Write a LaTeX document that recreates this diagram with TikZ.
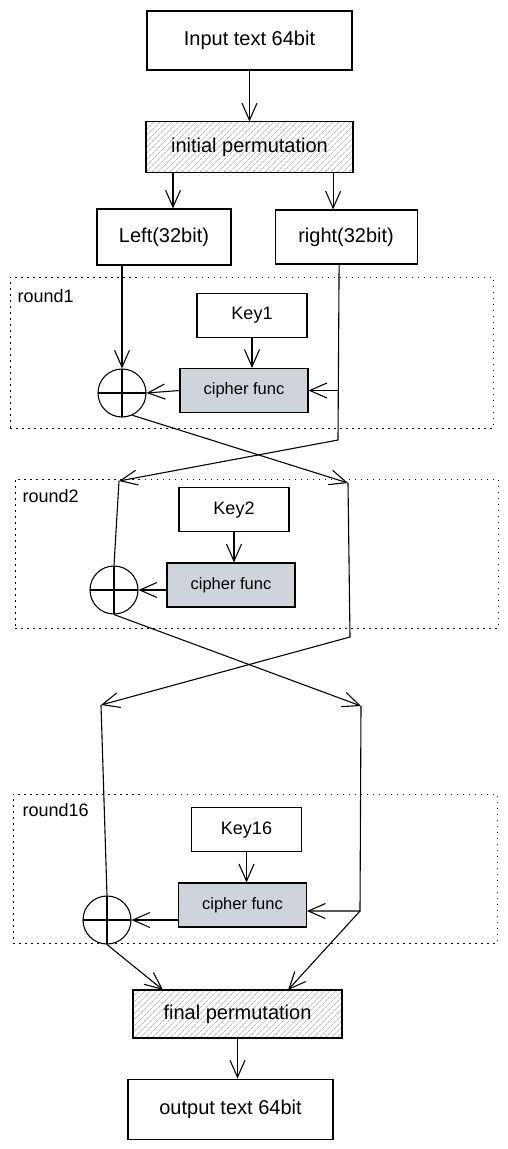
\documentclass[tikz,border=0pt]{standalone}
\usepackage{fontspec}
\setmainfont{Liberation Sans}
\usepackage{tikz}
\usetikzlibrary{arrows.meta}
\usetikzlibrary{positioning}
\usetikzlibrary{calc}
\usetikzlibrary{patterns.meta}
\definecolor{funcGray}{HTML}{CED4DA}
\tikzset{
    box/.style={draw, line width=1.1pt, inner sep=0pt, font=\fontsize{20}{22}\selectfont},
    permBox/.style={box, pattern={Lines[angle=45,distance=4pt,line width=0.6pt]}, pattern color=black!40},
    funcBox/.style={box, fill=funcGray, minimum width=128pt, minimum height=44pt, font=\fontsize{16.5}{18}\selectfont},
    keyBox/.style={box, minimum width=110pt, minimum height=44pt, font=\fontsize{18}{20}\selectfont},
    xorNode/.style={circle, draw, line width=1.1pt, minimum size=48pt, inner sep=0pt,
      path picture={
        \draw[line width=1.1pt] (path picture bounding box.north) -- (path picture bounding box.south);
        \draw[line width=1.1pt] (path picture bounding box.west) -- (path picture bounding box.east);}},
    roundBox/.style={draw, line width=1pt, dash pattern=on 1.5pt off 4.5pt, inner sep=0pt},
    roundLabel/.style={anchor=west, inner sep=0pt, font=\fontsize{18}{20}\selectfont},
}

\begin{document}
\begin{tikzpicture}[x=1pt,y=-1pt,arr/.style={-{Straight Barb[length=17pt,width=15pt]}},line width=1.1pt]
  \useasboundingbox (0,0) rectangle (507,1149);
  % https://tikz.dev/library-arrows : open barb heads look like the hand drawn ones
  \node[roundBox, minimum width=483pt, minimum height=151pt] (R1) at (251.5,352.5) {};
  \node[roundBox, minimum width=483pt, minimum height=149pt] (R2) at (256.5,553.5) {};
  \node[roundBox, minimum width=484pt, minimum height=149pt] (R16) at (255,868.5) {};
  \node[roundLabel] (R1lbl) at (17,296) {round1};
  \node[roundLabel] (R2lbl) at (22,496) {round2};
  \node[roundLabel] (R16lbl) at (22,810) {round16};

  \node[box, minimum width=205pt, minimum height=59pt] (in) at (249.5,40.5) {Input text 64bit};
  \node[permBox, minimum width=207pt, minimum height=51pt] (IP) [below=51pt of in] {initial permutation};
  \node[box, minimum width=134pt, minimum height=56pt] (L) at (164,237) {Left(32bit)};
  \node[box, minimum width=142pt, minimum height=54pt] (R) [right=43pt of L] {right(32bit)};

  \node[funcBox] (F1) at (244,390.5) {cipher func};
  \node[keyBox] (K1) [above=30pt of F1, xshift=8pt] {Key1};
  \node[xorNode] (X1) at (122,393) {};

  \node[funcBox] (F2) at (231,585) {cipher func};
  \node[keyBox] (K2) [above=30pt of F2, xshift=3pt] {Key2};
  \node[xorNode] (X2) at (114,590) {};

  \node[funcBox] (F16) at (242.5,905) {cipher func};
  \node[keyBox] (K16) [above=30pt of F16, xshift=4pt] {Key16};
  \node[xorNode] (X16) at (107,920) {};

  \node[permBox, minimum width=209pt, minimum height=48pt] (FP) at (237.5,1014) {final permutation};
  \node[box, minimum width=205pt, minimum height=60pt] (out) [below=40pt of FP, xshift=-7pt] {output text 64bit};

  \coordinate (Lt) at ([xshift=9pt]L.north);
  \coordinate (Rt) at ([xshift=-13pt]R.north);
  \coordinate (Rb) at ([xshift=-7pt]R.south);
  \coordinate (Rd1) at (338,440);
  \coordinate (c2L) at (119,481);
  \coordinate (c2R) at (348,483);
  \coordinate (Rd2) at (350,637);
  \coordinate (c3L) at (101,705);
  \coordinate (c3R) at (361,706);
  \coordinate (c16) at (360,911);
  \coordinate (FPl) at (163,990);
  \coordinate (FPr) at (288,990);

  \draw[arr] (in.south) -- (in.south |- IP.north);
  \draw[arr] (IP.south -| Lt) -- (Lt);
  \draw[arr] (IP.south -| Rt) -- (Rt);

  % round 1
  \draw[arr] (X1.north |- L.south) -- (X1.north);
  \draw[arr] (Rb) -- (Rd1) -- (c2L);
  \draw[arr] (F1.east -| Rd1) -- (F1.east);
  \draw[arr] (K1.south) -- (K1.south |- F1.north);
  \draw[arr] (F1.west) -- (X1.east);
  \draw[arr] (X1.-65) -- (c2R);

  % round 2
  \draw (c2L) -- (X2.north);
  \draw[arr] (c2R) -- (Rd2) -- (c3L);
  \draw[arr] (K2.south) -- (K2.south |- F2.north);
  \draw[arr] (F2.west |- X2) -- (X2.east);
  \draw[arr] (X2.south) -- (c3R);

  % round 16
  \draw (c3L) -- (X16.north);
  \draw[arr] (c3R) -- (c16) -- (F16.east |- c16);
  \draw[arr] (K16.south) -- (K16.south |- F16.north);
  \draw[arr] (F16.west |- X16) -- (X16.east);
  \draw[arr] (X16.south) -- (FPl);
  \draw[arr] (c16) -- (FPr);
  \draw[arr] (FP.south) -- (FP.south |- out.north);
\end{tikzpicture}
\end{document}
